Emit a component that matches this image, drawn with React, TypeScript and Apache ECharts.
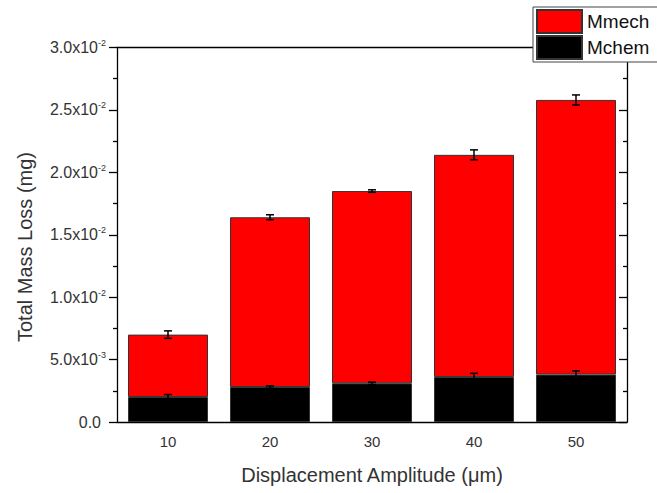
import React, { useEffect, useRef } from "react";
import * as echarts from "echarts";

// Displacement amplitude groups (µm)
const amplitudes = ["10", "20", "30", "40", "50"];
// Chemical and mechanical contributions to mass loss (mg)
const mchem = [0.002, 0.0028, 0.0031, 0.0036, 0.0038];
const mmech = [0.005, 0.0136, 0.0154, 0.0178, 0.022];
// Error bar half-widths (mg)
const mchemErr = [0.0002, 0.0001, 0.0001, 0.0003, 0.0003];
const totalErr = [0.0003, 0.0002, 0.0001, 0.0004, 0.0004];
// Y tick labels, one per 0.005 step
const yTickLabels = [
  "{z|0.0}",
  "5.0x10{sup|-3}",
  "1.0x10{sup|-2}",
  "1.5x10{sup|-2}",
  "2.0x10{sup|-2}",
  "2.5x10{sup|-2}",
  "3.0x10{sup|-2}",
];

const FONT = "'Liberation Sans', Arial, sans-serif";
const AXIS_COLOR = "#000";
const AXIS_W = 1.3;

function errorBars(name: string, centers: number[], errs: number[]) {
  return {
    type: "custom",
    name,
    z: 10,
    silent: true,
    encode: { x: 0, y: 1 },
    data: centers.map((c, i) => [i, c, errs[i]]),
    renderItem: (_params: any, api: any) => {
      const i = api.value(0);
      const c = api.value(1);
      const e = api.value(2);
      const hi = api.coord([i, c + e]);
      const lo = api.coord([i, c - e]);
      const w = 4;
      const style = { stroke: "#000", lineWidth: 1.5, fill: null };
      return {
        type: "group",
        children: [
          { type: "line", shape: { x1: hi[0], y1: hi[1], x2: lo[0], y2: lo[1] }, style },
          { type: "line", shape: { x1: hi[0] - w, y1: hi[1], x2: hi[0] + w, y2: hi[1] }, style },
          { type: "line", shape: { x1: lo[0] - w, y1: lo[1], x2: lo[0] + w, y2: lo[1] }, style },
        ],
      };
    },
  };
}

export default function App() {
  const ref = useRef<HTMLDivElement>(null);

  useEffect(() => {
    if (!ref.current) return;
    const chart = echarts.init(ref.current, undefined, { renderer: "svg" });
    const totals = mchem.map((v, i) => v + mmech[i]);
    const lineStyle = { color: AXIS_COLOR, width: AXIS_W };

    chart.setOption({
      animation: false,
      backgroundColor: "#fff",
      textStyle: { fontFamily: FONT },
      grid: { left: 117, right: 30, top: 47.5, bottom: 71 },
      legend: {
        data: ["Mmech", "Mchem"],
        orient: "vertical",
        left: 533,
        top: 7,
        itemWidth: 45,
        itemHeight: 23,
        itemGap: 1,
        padding: [2, 30, 2, 3],
        borderColor: "#444",
        borderWidth: 1,
        backgroundColor: "#fff",
        icon: "rect",
        selectedMode: false,
        textStyle: { fontSize: 19, color: "#111", fontFamily: FONT },
        z: 20,
      },
      xAxis: [
        {
          type: "category",
          data: amplitudes,
          position: "bottom",
          boundaryGap: true,
          axisLine: { onZero: false, lineStyle },
          axisTick: { alignWithLabel: false, inside: false, length: 5, interval: 0, lineStyle },
          axisLabel: { fontSize: 15, color: "#333", margin: 12, interval: 0, fontFamily: FONT },
          splitLine: { show: false },
          name: "Displacement Amplitude (\u03bcm)",
          nameLocation: "middle",
          nameGap: 43,
          nameTextStyle: { fontSize: 20, color: "#333", fontFamily: FONT },
        },
        {
          type: "category",
          data: amplitudes,
          position: "top",
          offset: 0,
          boundaryGap: true,
          axisLine: { onZero: false, lineStyle },
          axisTick: { alignWithLabel: true, inside: true, length: 7, interval: 0, lineStyle },
          axisLabel: { show: false },
          splitLine: { show: false },
        },
        {
          type: "category",
          data: amplitudes,
          position: "top",
          offset: 0,
          boundaryGap: true,
          axisLine: { show: false, onZero: false },
          axisTick: { alignWithLabel: false, inside: true, length: 4, interval: 0, lineStyle },
          axisLabel: { show: false },
          splitLine: { show: false },
        },
      ],
      yAxis: [
        {
          type: "value",
          position: "left",
          min: 0,
          max: 0.03,
          interval: 0.005,
          axisLine: { show: true, onZero: false, lineStyle },
          axisTick: { show: true, inside: false, length: 8, lineStyle },
          minorTick: { show: true, splitNumber: 2, length: 4, lineStyle },
          splitLine: { show: false },
          minorSplitLine: { show: false },
          axisLabel: {
            margin: 11,
            color: "#333",
            fontSize: 16,
            fontFamily: FONT,
            formatter: (v: number) => yTickLabels[Math.round(v / 0.005)] ?? "",
            rich: {
              z: { fontSize: 16, color: "#333", fontFamily: FONT, padding: [0, 5, 0, 0] },
              sup: { fontSize: 9, color: "#333", fontFamily: FONT, padding: [0, 0, 9, 0] },
            },
          },
        },
        {
          type: "value",
          position: "right",
          min: 0,
          max: 0.03,
          interval: 0.005,
          axisLine: { show: true, onZero: false, lineStyle },
          axisTick: { show: true, inside: true, length: 8, lineStyle },
          minorTick: { show: true, splitNumber: 2, length: 4, lineStyle },
          splitLine: { show: false },
          axisLabel: { show: false },
        },
      ],
      graphic: [
        {
          type: "text",
          x: 25,
          y: 247,
          rotation: Math.PI / 2,
          style: {
            text: "Total Mass Loss (mg)",
            fontSize: 20,
            fontFamily: FONT,
            fill: "#333",
            textAlign: "center",
            textVerticalAlign: "middle",
          },
        },
      ],
      series: [
        {
          type: "bar",
          name: "Mchem",
          stack: "total",
          barWidth: 80,
          data: mchem,
          itemStyle: { color: "#000", borderColor: "#333", borderWidth: 1 },
        },
        {
          type: "bar",
          name: "Mmech",
          stack: "total",
          barWidth: 80,
          data: mmech,
          itemStyle: { color: "#ff0000", borderColor: "#333", borderWidth: 1 },
        },
        errorBars("Mchem error", mchem, mchemErr),
        errorBars("Total error", totals, totalErr),
      ],
    });

    return () => chart.dispose();
  }, []);

  return (
    <div
      ref={ref}
      style={{ position: "fixed", left: 0, top: 0, width: 657, height: 493 }}
    />
  );
}
